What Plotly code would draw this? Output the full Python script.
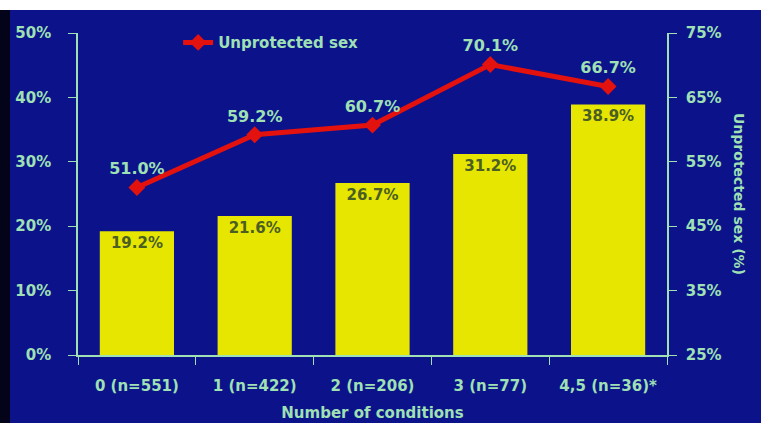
import plotly.graph_objects as go

categories = ["0 (n=551)", "1 (n=422)", "2 (n=206)", "3 (n=77)", "4,5 (n=36)*"]
bar_values = [19.2, 21.6, 26.7, 31.2, 38.9]
line_values = [51.0, 59.2, 60.7, 70.1, 66.7]
left_ticks = [0, 10, 20, 30, 40, 50]
right_ticks = [25, 35, 45, 55, 65, 75]

txt = "#9fe0b4"
font_family = "DejaVu Sans"

fig = go.Figure()
fig.add_trace(go.Bar(
    x=categories, y=bar_values,
    marker=dict(color="#e6e600", line=dict(width=0)),
    text=[f"{v:.1f}%" for v in bar_values],
    textposition="inside", insidetextanchor="end",
    textfont=dict(color="#4b5e24", size=15, family=font_family, weight="bold"),
    showlegend=False, yaxis="y",
))
fig.add_trace(go.Scatter(
    x=categories, y=line_values, yaxis="y2",
    mode="lines+markers+text",
    name="Unprotected sex",
    line=dict(color="#e3120f", width=5),
    marker=dict(symbol="diamond", size=13, color="#e3120f"),
    text=[f"{v:.1f}%" for v in line_values],
    textposition="top center",
    textfont=dict(color=txt, size=16, family=font_family, weight="bold"),
    cliponaxis=False,
))

fig.update_layout(
    width=761, height=423,
    margin=dict(l=78, r=94, t=33, b=68, autoexpand=False),
    paper_bgcolor="#0b128a",
    plot_bgcolor="rgba(0,0,0,0)",
    bargap=0.37,
    font=dict(family=font_family, color=txt, size=15),
    showlegend=True,
    legend=dict(x=0.17, y=0.97, xanchor="left", yanchor="middle",
                bgcolor="rgba(0,0,0,0)",
                font=dict(size=15, color=txt, family=font_family, weight="bold")),
    xaxis=dict(
        showline=True, linecolor=txt, linewidth=1.5, automargin=False,
        ticks="outside", tickson="boundaries", ticklen=8, tickcolor=txt,
        ticklabelstandoff=16,
        tickfont=dict(size=15, color=txt, family=font_family, weight="bold"),
        title=dict(text="Number of conditions", standoff=14,
                   font=dict(size=15, color=txt, family=font_family, weight="bold")),
        showgrid=False,
    ),
    yaxis=dict(
        range=[0, 50], tickvals=left_ticks, ticktext=[f"{v}%" for v in left_ticks],
        showline=True, linecolor=txt, linewidth=1.5, automargin=False,
        ticks="outside", ticklen=8, tickcolor=txt, ticklabelstandoff=14,
        tickfont=dict(size=15, color=txt, family=font_family, weight="bold"),
        showgrid=False, zeroline=False,
    ),
    yaxis2=dict(
        range=[25, 75], tickvals=right_ticks, ticktext=[f"{v}%" for v in right_ticks],
        overlaying="y", side="right", automargin=False,
        showline=True, linecolor=txt, linewidth=1.5,
        ticks="outside", ticklen=8, tickcolor=txt, ticklabelstandoff=6,
        tickfont=dict(size=15, color=txt, family=font_family, weight="bold"),
        showgrid=False, zeroline=False,
    ),
    shapes=[
        dict(type="rect", xref="paper", yref="paper", x0=-0.2, x1=1.2,
             y0=1.0 + 23 / 322, y1=1.2, fillcolor="white", line=dict(width=0), layer="below"),
        dict(type="rect", xref="paper", yref="paper", x0=-78 / 589, x1=-68 / 589,
             y0=-0.3, y1=1.0 + 23 / 322, fillcolor="#03041a", line=dict(width=0), layer="below"),
    ],
    annotations=[
        dict(text="Unprotected sex (%)", textangle=90, xref="paper", yref="paper",
             x=1.0 + 82 / 589, y=0.5, showarrow=False,
             font=dict(size=14, color=txt, family=font_family, weight="bold")),
    ],
)

fig.write_html("out.html")
